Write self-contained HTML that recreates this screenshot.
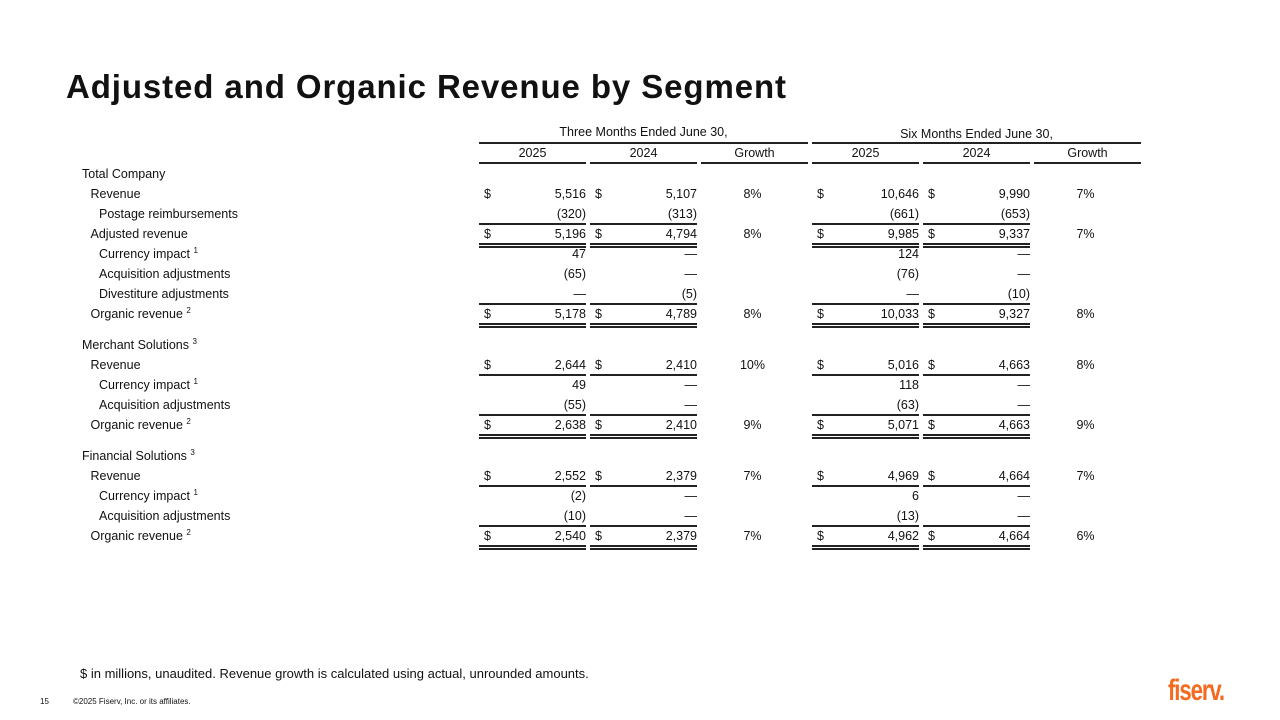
<!DOCTYPE html>
<html><head><meta charset="utf-8">
<style>
body{margin:0;width:1280px;height:720px;background:#fff;position:relative;overflow:hidden;font-family:"Liberation Sans",sans-serif;color:#111}
.t{position:absolute;white-space:nowrap;font-size:12.5px;line-height:20px;height:20px}
.ln{position:absolute;height:2px;background:#222}
sup{font-size:8px;vertical-align:5px;line-height:0}
</style></head><body>
<div style="position:absolute;left:66px;top:68px;font-size:33px;font-weight:bold;letter-spacing:0.9px;color:#111">Adjusted and Organic Revenue by Segment</div>
<div class="t" style="left:479px;width:329px;top:122px;text-align:center">Three Months Ended June 30,</div>
<div class="t" style="left:812px;width:329px;top:124px;text-align:center">Six Months Ended June 30,</div>
<div class="ln" style="left:479px;width:329px;top:142px"></div>
<div class="ln" style="left:812px;width:329px;top:142px"></div>
<div id="tbl"></div>
<div class="t" style="left:80px;top:664px;font-size:13px">$ in millions, unaudited. Revenue growth is calculated using actual, unrounded amounts.</div>
<div class="t" style="left:40px;top:692px;font-size:8px">15</div>
<div class="t" style="left:73px;top:692px;font-size:8px">©2025 Fiserv, Inc. or its affiliates.</div>
<div style="position:absolute;left:1168px;top:674px;font-size:30px;font-weight:bold;color:#f26b21;letter-spacing:-1.5px;transform:scaleX(0.74);transform-origin:left">fiserv.</div>
<script>
const cols=[[479,586],[590,697],[701,808],[812,919],[923,1030],[1034,1141]];
const heads=["2025","2024","Growth","2025","2024","Growth"];
const rows=[
["Total Company",0,174,null,0,0],
["Revenue",1,194,["5,516","5,107","8%","10,646","9,990","7%"],1,0],
["Postage reimbursements",2,214,["(320)","(313)","","(661)","(653)",""],0,1],
["Adjusted revenue",1,234,["5,196","4,794","8%","9,985","9,337","7%"],1,2],
["Currency impact <sup>1</sup>",2,254,["47","—","","124","—",""],0,0],
["Acquisition adjustments",2,274,["(65)","—","","(76)","—",""],0,0],
["Divestiture adjustments",2,294,["—","(5)","","—","(10)",""],0,1],
["Organic revenue <sup>2</sup>",1,314,["5,178","4,789","8%","10,033","9,327","8%"],1,2],
["Merchant Solutions <sup>3</sup>",0,345,null,0,0],
["Revenue",1,365,["2,644","2,410","10%","5,016","4,663","8%"],1,1],
["Currency impact <sup>1</sup>",2,385,["49","—","","118","—",""],0,0],
["Acquisition adjustments",2,405,["(55)","—","","(63)","—",""],0,1],
["Organic revenue <sup>2</sup>",1,425,["2,638","2,410","9%","5,071","4,663","9%"],1,2],
["Financial Solutions <sup>3</sup>",0,456,null,0,0],
["Revenue",1,476,["2,552","2,379","7%","4,969","4,664","7%"],1,1],
["Currency impact <sup>1</sup>",2,496,["(2)","—","","6","—",""],0,0],
["Acquisition adjustments",2,516,["(10)","—","","(13)","—",""],0,1],
["Organic revenue <sup>2</sup>",1,536,["2,540","2,379","7%","4,962","4,664","6%"],1,2]
];
const T=document.getElementById('tbl');
function add(html,css,name){const d=document.createElement('div');d.className='t';d.innerHTML=html;d.style.cssText=css;


T.appendChild(d);return d;}
function line(x,w,y){const d=document.createElement('div');d.className='ln';d.style.cssText=`left:${x}px;width:${w}px;top:${y}px`;


T.appendChild(d);}
heads.forEach((h,i)=>{const c=cols[i];add(h,`left:${c[0]}px;width:${c[1]-c[0]}px;top:143px;text-align:center`,'column-header');line(c[0],c[1]-c[0],162);});
rows.forEach(r=>{
 const y=r[2]-10;
 add(r[0],`left:${82+r[1]*8.5}px;top:${y}px`,'row-label');
 if(!r[3])return;
 r[3].forEach((v,i)=>{const c=cols[i];
  if(i%3==2){add(v,`left:${c[0]}px;width:${c[1]-c[0]-4}px;top:${y}px;text-align:center`,'growth-value');return;}
  add(v,`left:${c[0]}px;width:${c[1]-c[0]}px;top:${y}px;text-align:right`,'cell-value');
  if(r[4])add('$',`left:${c[0]+5}px;top:${y}px`,'dollar-sign');
  if(r[5]>=1)line(c[0],c[1]-c[0],r[2]+9);
  if(r[5]==2)line(c[0],c[1]-c[0],r[2]+12);
 });
});
</script>
</body></html>
